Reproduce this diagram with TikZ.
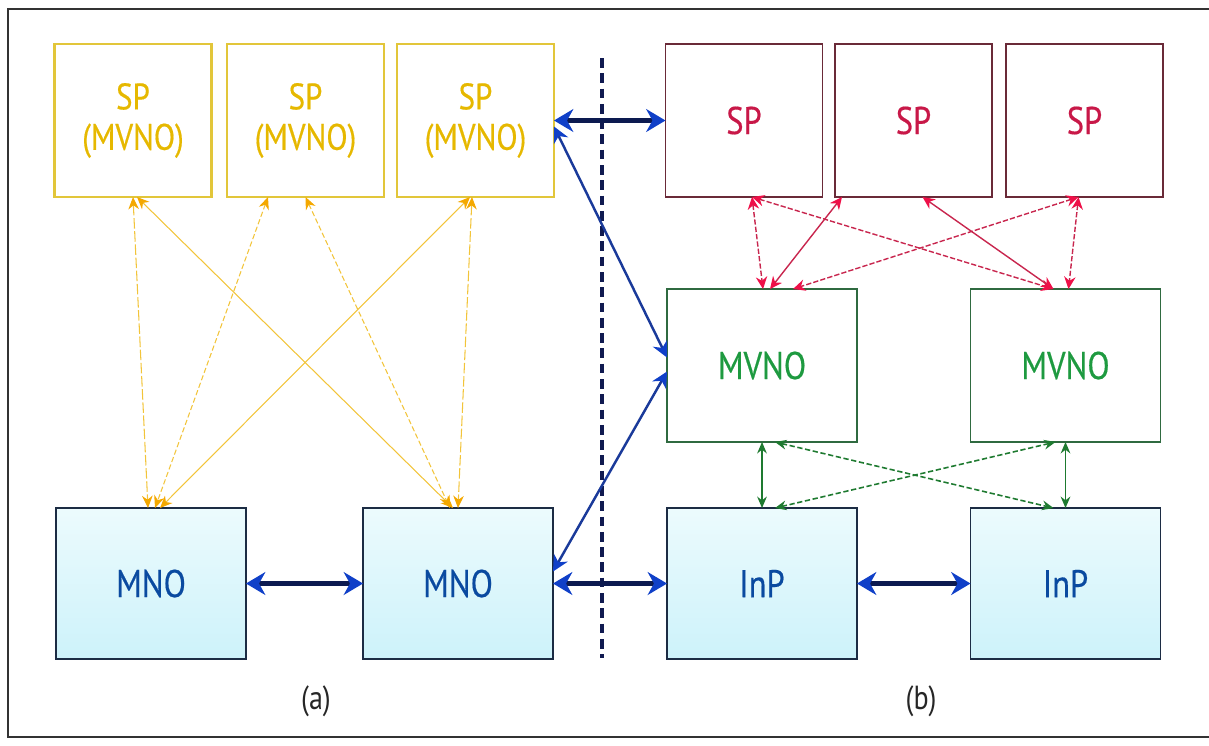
\documentclass[tikz,border=0pt]{standalone}
\usepackage{fontspec}
\newfontfamily\labfont[FakeStretch=0.84,FakeBold=0.4]{PT Sans}
\newfontfamily\capfont[FakeStretch=0.84]{PT Sans}
\usetikzlibrary{arrows.meta,calc}
\definecolor{yText}{HTML}{E6B800}
\definecolor{yBorder}{HTML}{E2C63A}
\definecolor{yLine}{HTML}{F2C43A}
\definecolor{yHead}{HTML}{F4A800}
\definecolor{rText}{HTML}{C81848}
\definecolor{rBorder}{HTML}{6A2A38}
\definecolor{rLine}{HTML}{C8264E}
\definecolor{rHead}{HTML}{EE1048}
\definecolor{gText}{HTML}{1E9A40}
\definecolor{gBorder}{HTML}{2F6A40}
\definecolor{gLine}{HTML}{1E7A30}
\definecolor{bText}{HTML}{0A4AA0}
\definecolor{bBorder}{HTML}{1C2C44}
\definecolor{bTop}{HTML}{ECFBFD}
\definecolor{bBot}{HTML}{CDF2FA}
\definecolor{bShaft}{HTML}{0C1A50}
\definecolor{bHead}{HTML}{1040C8}
\definecolor{bDiag}{HTML}{1A3A9A}
\definecolor{sepLine}{HTML}{101A50}
\definecolor{frameC}{HTML}{333333}
\begin{document}
\begin{tikzpicture}[x=0.02cm,y=-0.02cm,
  box/.style={rectangle, outer sep=0pt, inner sep=0pt, font=\labfont\fontsize{22}{23}\selectfont, align=center},
  ybox/.style={box, draw=yBorder, line width=1.2pt, text=yText, font=\labfont\fontsize{21}{23}\selectfont, minimum width=3.14cm, minimum height=3.06cm},
  rbox/.style={box, draw=rBorder, line width=0.9pt, text=rText, minimum width=3.14cm, minimum height=3.06cm},
  gbox/.style={box, draw=gBorder, line width=0.9pt, text=gText, minimum width=3.80cm, minimum height=3.06cm},
  bbox/.style={box, draw=bBorder, line width=0.9pt, text=bText, top color=bTop, bottom color=bBot, minimum width=3.80cm, minimum height=3.02cm},
  yarr/.style={draw=yLine, line width=0.6pt, arrows={Stealth[length=7pt,width=6pt,color=yHead]-Stealth[length=7pt,width=6pt,color=yHead]}},
  rarr/.style={draw=rLine, line width=0.8pt, arrows={Stealth[length=7pt,width=6.5pt,color=rHead]-Stealth[length=7pt,width=6.5pt,color=rHead]}},
  garr/.style={draw=gLine, line width=0.9pt, arrows={Stealth[length=6.5pt,width=5.5pt,color=gLine]-Stealth[length=6.5pt,width=5.5pt,color=gLine]}},
  barr/.style={draw=bShaft, line width=2.6pt, arrows={Stealth[length=11pt,width=13pt,color=bHead]-Stealth[length=11pt,width=13pt,color=bHead]}},
  bdiag/.style={draw=bDiag, line width=1.4pt, arrows={Stealth[length=9pt,width=9pt,color=bHead]-Stealth[length=9pt,width=9pt,color=bHead]}},
  ydash/.style={dash pattern=on 3pt off 1.5pt},
  ylong/.style={dash pattern=on 6pt off 1.5pt},
  rdash/.style={dash pattern=on 3pt off 1.2pt},
  gdash/.style={dash pattern=on 3pt off 1.5pt},
  caption/.style={font=\capfont\fontsize{19}{21}\selectfont, text=black!85}
]
\useasboundingbox (0,0) rectangle (1209,745);
\draw[frameC, line width=0.9pt] (1240,9) -- (8,9) -- (8,737) -- (1240,737);

% (a) side
\node[ybox] (y1) at (133,120.5) {SP\\(MVNO)};
\node[ybox] (y2) at (305.5,120.5) {SP\\(MVNO)};
\node[ybox] (y3) at (475.5,120.5) {SP\\(MVNO)};
\node[bbox] (m1) at (151,583.5) {MNO};
\node[bbox] (m2) at (458,583.5) {MNO};

% (b) side
\node[rbox] (r1) at (744,120.5) {SP};
\node[rbox] (r2) at (913.5,120.5) {SP};
\node[rbox] (r3) at (1084.5,120.5) {SP};
\node[gbox] (g1) at (762,365.5) {MVNO};
\node[gbox] (g2) at (1065.5,365.5) {MVNO};
\node[bbox] (i1) at (762,583.5) {InP};
\node[bbox] (i2) at (1065.5,583.5) {InP};

% separator
\coordinate (sepT) at (602,58);
\coordinate (sepB) at (602,658);
\draw[sepLine, line width=2pt, dash pattern=on 5.5pt off 3.2pt] (sepT) -- (sepB);

% captions
\node[caption] (capa) at (316,701) {(a)};
\node[caption] (capb) at (921,701) {(b)};

% yellow connectors
\draw[yarr, ylong] ($(y1.south)+(0,0)$) -- ($(m1.north)+(-3,0)$);
\draw[yarr] ($(y1.south)+(4,0)$) -- ($(m2.north)+(-5,0)$);
\draw[yarr, ydash] ($(y2.south)+(-37.5,0)$) -- ($(m1.north)+(4,0)$);
\draw[yarr, ydash] ($(y2.south)+(0,0)$) -- ($(m2.north)+(-8,0)$);
\draw[yarr] ($(y3.south)+(-5.5,0)$) -- ($(m1.north)+(9,0)$);
\draw[yarr, ylong] ($(y3.south)+(-3.5,0)$) -- ($(m2.north)+(0,0)$);

% red connectors
\draw[rarr, rdash] ($(r1.south)+(8,0)$) -- ($(g1.north)+(1,0)$);
\draw[rarr] ($(r2.south)+(-71.5,0)$) -- ($(g1.north)+(8,0)$);
\draw[rarr, rdash] ($(r1.south)+(8,0)$) -- ($(g2.north)+(-12,0)$);
\draw[rarr] ($(r2.south)+(9,0)$) -- ($(g2.north)+(-12,0)$);
\draw[rarr, rdash] ($(r3.south)+(-6,0)$) -- ($(g1.north)+(31,0)$);
\draw[rarr, rdash] ($(r3.south)+(-6,0)$) -- ($(g2.north)+(3,0)$);

% green connectors
\draw[garr] (g1.south) -- (i1.north);
\draw[garr] (g2.south) -- (i2.north);
\draw[garr, gdash] ($(g1.south)+(13,0)$) -- ($(i2.north)+(-12,0)$);
\draw[garr, gdash] ($(g2.south)+(-10,0)$) -- ($(i1.north)+(13,0)$);

% blue connectors
\draw[barr] (y3.east) -- (r1.west);
\draw[bdiag] ($(y3.east)+(0,6)$) -- ($(g1.west)+(0,-8)$);
\draw[bdiag] ($(m2.east)+(0,-12)$) -- ($(g1.west)+(0,6)$);
\draw[barr] (m2.east) -- (i1.west);
\draw[barr] (m1.east) -- (m2.west);
\draw[barr] (i1.east) -- (i2.west);
\end{tikzpicture}
\end{document}
